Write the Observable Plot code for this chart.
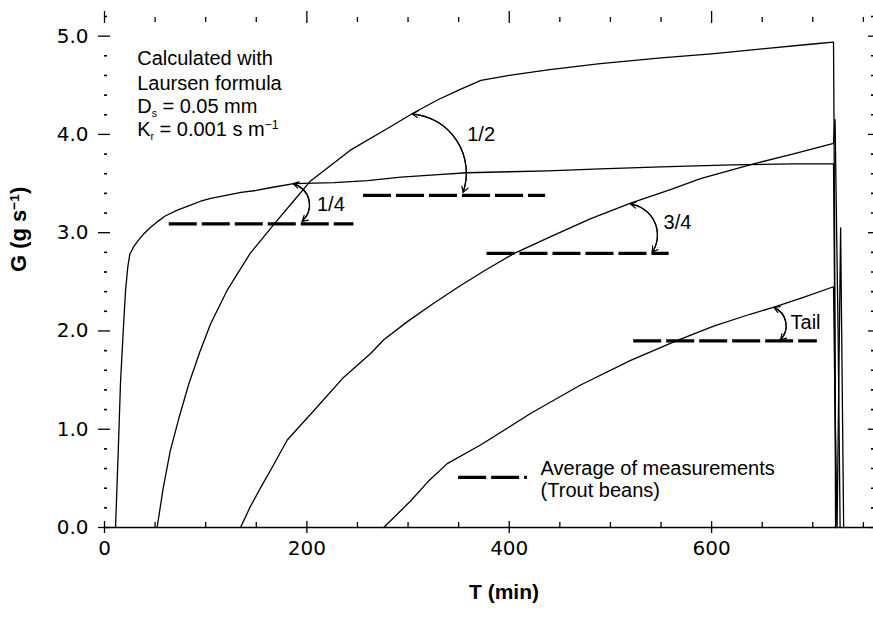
<!DOCTYPE html>
<html>
<head>
<meta charset="utf-8">
<script src="https://cdn.jsdelivr.net/npm/d3@7"></script>
<script src="https://cdn.jsdelivr.net/npm/@observablehq/plot@0.6"></script>
<style>
  html, body { margin: 0; padding: 0; background: #fff; }
</style>
</head>
<body>
<div id="chart"></div>
<script>
// ---------- Data ----------
const seriesNames = ["1/4", "1/2", "3/4", "Tail"];

const tQuarter = [10.9, 13.5, 15.8, 18.5, 20.8, 23, 25, 29, 34, 39, 45, 52, 60, 72, 85, 95, 105, 120, 135, 150, 165, 187, 227, 260, 293, 330, 358, 400, 438, 490, 550, 620, 680, 718, 720.5, 721.5, 723];
const gQuarter = [0, 0.75, 1.47, 2.0, 2.41, 2.65, 2.78, 2.86, 2.93, 2.99, 3.05, 3.11, 3.17, 3.23, 3.28, 3.32, 3.35, 3.38, 3.41, 3.43, 3.46, 3.50, 3.51, 3.53, 3.565, 3.59, 3.61, 3.62, 3.63, 3.65, 3.67, 3.69, 3.70, 3.70, 3.70, 2.4, 0];

const tHalf = [52, 58, 65, 74, 83.3, 94, 104.8, 121, 144, 167, 185, 203, 243, 283, 304, 329, 350, 372, 400, 440, 490, 550, 600, 650, 700, 720.5, 721.5, 722.5];
const gHalf = [0, 0.4, 0.78, 1.13, 1.46, 1.78, 2.07, 2.41, 2.79, 3.08, 3.30, 3.52, 3.84, 4.08, 4.21, 4.35, 4.45, 4.55, 4.60, 4.66, 4.72, 4.78, 4.82, 4.87, 4.92, 4.94, 3.2, 0];

const tThreeQuarter = [134.4, 144, 154, 164, 180.6, 207, 236.5, 263, 276, 300, 325, 350, 375, 405, 441, 480, 520, 560, 589, 641.5, 680, 720.5, 722, 725, 727];
const gThreeQuarter = [0, 0.21, 0.40, 0.58, 0.89, 1.19, 1.53, 1.77, 1.91, 2.10, 2.28, 2.45, 2.61, 2.79, 2.96, 3.14, 3.30, 3.44, 3.55, 3.70, 3.80, 3.91, 4.15, 2.0, 0];

const tTail = [276, 302.5, 320, 338.7, 371.6, 421, 470.5, 520, 565, 602, 638, 661, 690, 720.5, 722, 724, 727.5, 730.5];
const gTail = [0, 0.27, 0.47, 0.65, 0.84, 1.16, 1.45, 1.70, 1.90, 2.05, 2.17, 2.24, 2.34, 2.45, 1.2, 0, 3.05, 0];

// measured averages (dashed lines)
const measuredNames = ["1/4", "1/2", "3/4", "Tail"];
const measuredG = [3.09, 3.38, 2.79, 1.90];
const measuredStart = [64, 256, 378, 523];
const measuredEnd = [246.5, 436, 558, 704.5];

// ticks
const xMajorTicks = [0, 200, 400, 600];
const xMinorTicks = [50, 100, 150, 250, 300, 350, 450, 500, 550, 650, 700, 750];
const yMajorTicks = [0, 1, 2, 3, 4, 5];
const yMinorTicks = [0.2, 0.4, 0.6, 0.8, 1.2, 1.4, 1.6, 1.8, 2.2, 2.4, 2.6, 2.8, 3.2, 3.4, 3.6, 3.8, 4.2, 4.4, 4.6, 4.8, 5.2];

// texts
const xTitle = "T (min)";
const yTitle = "G (g s^{−1})";
const noteLines = ["Calculated with", "Laursen formula", "D_{s} = 0.05 mm", "K_{r} = 0.001 s m^{−1}"];
const legendLines = ["Average of measurements", "(Trout beans)"];

// ---------- Tables built from the arrays ----------
const seriesT = [tQuarter, tHalf, tThreeQuarter, tTail];
const seriesG = [gQuarter, gHalf, gThreeQuarter, gTail];
const curveRows = seriesNames.flatMap((name, i) =>
  seriesT[i].map((t, j) => ({name, t, G: seriesG[i][j]})));
const measuredRows = measuredNames.map((name, i) =>
  ({name, G: measuredG[i], t1: measuredStart[i], t2: measuredEnd[i]}));

// annotation arrows linking each calculated curve to its measured average
const arrowRows = [
  {name: "1/4", x1: 186.4, y1: 3.50, x2: 195.3, y2: 3.115, bend: 62},
  {name: "1/2", x1: 304, y1: 4.21, x2: 354.4, y2: 3.41, bend: 52},
  {name: "3/4", x1: 519.9, y1: 3.29, x2: 541.3, y2: 2.80, bend: 58},
  {name: "Tail", x1: 661.5, y1: 2.24, x2: 668, y2: 1.91, bend: 56}
];
const arrowLabelPos = {"1/4": [210, 3.29], "1/2": [358.5, 4.0], "3/4": [552.5, 3.10], "Tail": [678, 2.09]};

const textFont = "Liberation Sans, Arial, sans-serif";
const numFont = "DejaVu Sans, sans-serif";

const arrowMarks = arrowRows.flatMap(a => [
  Plot.arrow([a], {x1: "x1", y1: "y1", x2: "x2", y2: "y2", bend: a.bend, headLength: 8, strokeWidth: 1.2, stroke: "black"}),
  Plot.arrow([a], {x1: "x2", y1: "y2", x2: "x1", y2: "y1", bend: -a.bend, headLength: 8, strokeWidth: 1.2, stroke: "black"})
]);

const plot = Plot.plot({
  width: 873,
  height: 619,
  marginLeft: 104,
  marginRight: 0,
  marginTop: 16,
  marginBottom: 92,
  style: {fontFamily: textFont, fontSize: "20px", background: "#fff", color: "#000"},
  x: {domain: [0, 760]},
  y: {domain: [0, 5.2]},
  marks: [
    // bottom axis line
    Plot.ruleY([0], {stroke: "black", strokeWidth: 1.5}),
    // bottom axis
    Plot.axisX({anchor: "bottom", ticks: xMajorTicks, tickSize: 6, tickPadding: 7, tickFormat: d => String(d),
      fontSize: 20, fontFamily: numFont, label: null, strokeWidth: 1.3}),
    Plot.axisX({anchor: "bottom", ticks: xMajorTicks, tickSize: 6, dy: -6, tickFormat: () => "", label: null, strokeWidth: 1.3}),
    Plot.axisX({anchor: "bottom", ticks: xMinorTicks, tickSize: 5, dy: -5, tickFormat: () => "", label: null, strokeWidth: 1.3}),
    // top axis (ticks only)
    Plot.axisX({anchor: "top", ticks: xMajorTicks, tickSize: 6, tickFormat: () => "", label: null, strokeWidth: 1.3}),
    Plot.axisX({anchor: "top", ticks: xMajorTicks, tickSize: 6, dy: 6, tickFormat: () => "", label: null, strokeWidth: 1.3}),
    Plot.axisX({anchor: "top", ticks: xMinorTicks, tickSize: 5, dy: 5, tickFormat: () => "", label: null, strokeWidth: 1.3}),
    // left axis
    Plot.axisY({anchor: "left", ticks: yMajorTicks, tickSize: 6, tickPadding: 10, tickFormat: d3.format(".1f"),
      fontSize: 20, fontFamily: numFont, label: null, strokeWidth: 1.3}),
    Plot.axisY({anchor: "left", ticks: yMajorTicks, tickSize: 6, dx: 6, tickFormat: () => "", label: null, strokeWidth: 1.3}),
    Plot.axisY({anchor: "left", ticks: yMinorTicks, tickSize: 3, dx: 3, tickFormat: () => "", label: null, strokeWidth: 1.6}),
    // right axis (ticks only, inward)
    Plot.axisY({anchor: "right", ticks: yMajorTicks, tickSize: 6, dx: -6, tickFormat: () => "", label: null, strokeWidth: 1.3}),
    Plot.axisY({anchor: "right", ticks: yMinorTicks, tickSize: 3, dx: -3, tickFormat: () => "", label: null, strokeWidth: 1.6}),

    // calculated curves
    Plot.line(curveRows, {x: "t", y: "G", z: "name", stroke: "black", strokeWidth: 1.3, curve: "linear"}),

    // measured averages
    Plot.ruleY(measuredRows, {y: "G", x1: "t1", x2: "t2", stroke: "black", strokeWidth: 3.3, strokeDasharray: "28,5"}),

    // arrows + labels
    ...arrowMarks,
    Plot.text(seriesNames, {x: d => arrowLabelPos[d][0], y: d => arrowLabelPos[d][1], text: d => d,
      textAnchor: "start", fontSize: 20, fontFamily: d => (/\d/.test(d) ? numFont : textFont)}),

    // method note
    Plot.text(noteLines, {x: 32.3, y: (d, i) => [4.77, 4.52, 4.28, 4.045][i], text: d => d, textAnchor: "start", fontSize: 20}),

    // legend
    Plot.ruleY([legendLines[0]], {y: 0.51, x1: 350, x2: 418, stroke: "black", strokeWidth: 3.3, strokeDasharray: "28,5"}),
    Plot.text(legendLines, {x: 431, y: (d, i) => [0.60, 0.38][i], text: d => d, textAnchor: "start", fontSize: 20}),

    // axis titles
    Plot.text([xTitle], {frameAnchor: "bottom", dx: 15, dy: 71, text: d => d, fontWeight: "bold", fontSize: 21}),
    Plot.text([yTitle], {y: 2.6, frameAnchor: "left", dx: -86, rotate: -90, text: d => d, fontWeight: "bold", fontSize: 22})
  ]
});

// rich text: _{...} subscripts and ^{...} superscripts
function richify(root) {
  const NS = "http://www.w3.org/2000/svg";
  root.querySelectorAll("text, tspan").forEach(el => {
    if (el.childNodes.length !== 1 || el.firstChild.nodeType !== 3) return;
    const s = el.textContent;
    if (!/[_^]\{/.test(s)) return;
    el.textContent = "";
    const re = /([_^])\{([^}]*)\}/g;
    let last = 0, m;
    while ((m = re.exec(s))) {
      if (m.index > last) el.appendChild(document.createTextNode(s.slice(last, m.index)));
      const t = document.createElementNS(NS, "tspan");
      t.setAttribute("font-size", m[1] === "_" ? "52%" : "62%");
      t.setAttribute("baseline-shift", m[1] === "_" ? "-4px" : "7px");
      t.textContent = m[2];
      el.appendChild(t);
      last = re.lastIndex;
    }
    if (last < s.length) el.appendChild(document.createTextNode(s.slice(last)));
  });
}
richify(plot);
document.getElementById("chart").appendChild(plot);
</script>
</body>
</html>
